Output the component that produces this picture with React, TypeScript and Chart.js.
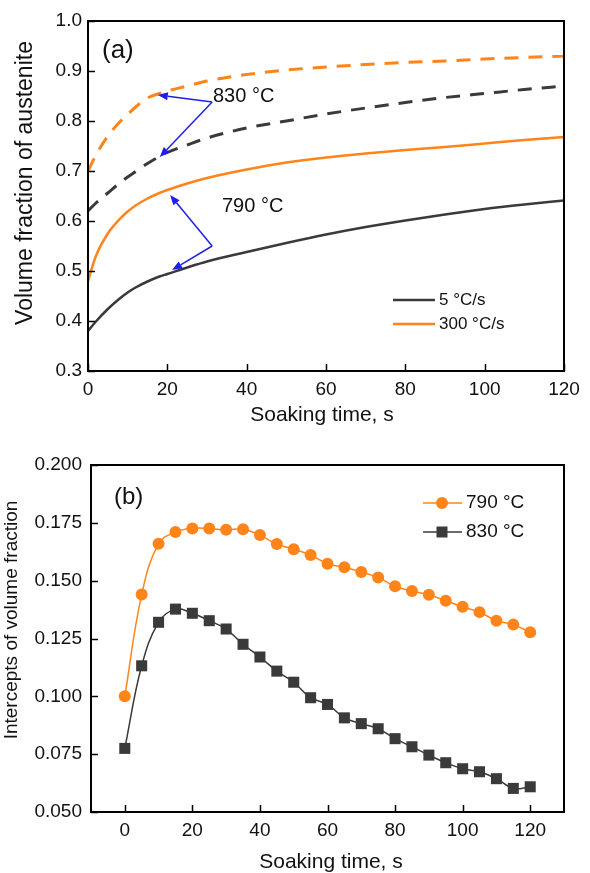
import React, { useEffect, useRef } from 'react';
import { Chart, registerables } from 'chart.js';

Chart.register(...registerables);

const FONT = "'Liberation Sans', Arial, Helvetica, sans-serif";
const ORANGE = '#ff8419';
const GREY = '#3a3a3a';
const BLUE = '#1f1fe6';

// ---------- Panel (a) data ----------
const timeA = [0, 2, 5, 8, 10, 12, 15, 18, 20, 25, 30, 40, 50, 60, 70, 80, 90, 100, 110, 120];
const fast830 = [0.70, 0.732, 0.770, 0.798, 0.813, 0.828, 0.846, 0.855, 0.860, 0.870, 0.880, 0.893, 0.902, 0.908, 0.913, 0.917, 0.920, 0.924, 0.927, 0.930];
const slow830 = [0.62, 0.636, 0.656, 0.676, 0.688, 0.699, 0.715, 0.729, 0.737, 0.752, 0.766, 0.786, 0.800, 0.814, 0.826, 0.837, 0.847, 0.855, 0.863, 0.870];
const fast790 = [0.48, 0.530, 0.575, 0.604, 0.619, 0.631, 0.645, 0.656, 0.662, 0.675, 0.686, 0.703, 0.717, 0.727, 0.735, 0.742, 0.748, 0.755, 0.762, 0.768];
const slow790 = [0.38, 0.399, 0.424, 0.445, 0.457, 0.467, 0.479, 0.489, 0.494, 0.507, 0.519, 0.538, 0.556, 0.573, 0.588, 0.601, 0.613, 0.624, 0.633, 0.641];
const ticksAX = [0, 20, 40, 60, 80, 100, 120];
const ticksAY = [0.3, 0.4, 0.5, 0.6, 0.7, 0.8, 0.9, 1.0];
const legendA = ['5 °C/s', '300 °C/s'];

// ---------- Panel (b) data ----------
const timeB = [0, 5, 10, 15, 20, 25, 30, 35, 40, 45, 50, 55, 60, 65, 70, 75, 80, 85, 90, 95, 100, 105, 110, 115, 120];
const int790 = [0.100, 0.144, 0.166, 0.171, 0.1726, 0.1725, 0.172, 0.1722, 0.1697, 0.1658, 0.1636, 0.1611, 0.1573, 0.1558, 0.1537, 0.1514, 0.1476, 0.1455, 0.1439, 0.1413, 0.1387, 0.1364, 0.1327, 0.131, 0.1277];
const int830 = [0.0775, 0.1132, 0.132, 0.1377, 0.1359, 0.1327, 0.1291, 0.1225, 0.117, 0.1109, 0.1061, 0.0994, 0.0965, 0.0907, 0.0882, 0.086, 0.0817, 0.0782, 0.0746, 0.0713, 0.0687, 0.0674, 0.0644, 0.0602, 0.0609];
const ticksBX = [0, 20, 40, 60, 80, 100, 120];
const ticksBY = [0.05, 0.075, 0.1, 0.125, 0.15, 0.175, 0.2];
const legendB = ['790 °C', '830 °C'];

const pts = (xs: number[], ys: number[]) => xs.map((x, i) => ({ x, y: ys[i] }));

function setTicks(values: number[]) {
  return (scale: any) => {
    scale.ticks = values.map((v) => ({ value: v }));
  };
}

function arrow(ctx: CanvasRenderingContext2D, x0: number, y0: number, x1: number, y1: number) {
  const ang = Math.atan2(y1 - y0, x1 - x0);
  const len = 10;
  const hw = 4;
  const bx = x1 - len * Math.cos(ang);
  const by = y1 - len * Math.sin(ang);
  ctx.beginPath();
  ctx.moveTo(x0, y0);
  ctx.lineTo(bx, by);
  ctx.stroke();
  ctx.beginPath();
  ctx.moveTo(x1, y1);
  ctx.lineTo(bx + hw * Math.sin(ang), by - hw * Math.cos(ang));
  ctx.lineTo(bx - hw * Math.sin(ang), by + hw * Math.cos(ang));
  ctx.closePath();
  ctx.fill();
}

function frameAndTicks(chart: any) {
  const { ctx, chartArea: a, scales } = chart;
  ctx.save();
  ctx.strokeStyle = '#000';
  ctx.lineWidth = 1.5;
  scales.x.ticks.forEach((t: any) => {
    const px = Math.round(scales.x.getPixelForValue(t.value)) + 0.5;
    ctx.beginPath();
    ctx.moveTo(px, a.bottom);
    ctx.lineTo(px, a.bottom - 7);
    ctx.stroke();
  });
  scales.y.ticks.forEach((t: any) => {
    const py = Math.round(scales.y.getPixelForValue(t.value)) + 0.5;
    ctx.beginPath();
    ctx.moveTo(a.left, py);
    ctx.lineTo(a.left + 7, py);
    ctx.stroke();
  });
  ctx.lineWidth = 2;
  ctx.strokeRect(a.left, a.top, a.right - a.left, a.bottom - a.top);
  ctx.restore();
}

function drawText(ctx: CanvasRenderingContext2D, text: string, x: number, y: number, size: number, align: CanvasTextAlign = 'left', rot = 0) {
  ctx.save();
  ctx.translate(x, y);
  if (rot) ctx.rotate(rot);
  ctx.font = `${size}px ${FONT}`;
  ctx.fillStyle = '#111';
  ctx.textAlign = align;
  ctx.textBaseline = 'middle';
  ctx.fillText(text, 0, 0);
  ctx.restore();
}

const plotA = {
  id: 'plotA',
  afterDraw(chart: any) {
    const { ctx, scales } = chart;
    frameAndTicks(chart);
    const X = (v: number) => scales.x.getPixelForValue(v);
    const Y = (v: number) => scales.y.getPixelForValue(v);
    // titles
    drawText(ctx, 'Soaking time, s', 322, 415, 21, 'center');
    drawText(ctx, 'Volume fraction of austenite', 26, 183, 23, 'center', -Math.PI / 2);
    // annotations
    drawText(ctx, '(a)', 102, 51, 26);
    drawText(ctx, '830 °C', 213, 96, 20);
    drawText(ctx, '790 °C', 222, 206, 20);
    ctx.save();
    ctx.strokeStyle = BLUE;
    ctx.fillStyle = BLUE;
    ctx.lineWidth = 1.5;
    arrow(ctx, X(31.3), Y(0.838), X(17.6), Y(0.852));
    arrow(ctx, X(31.3), Y(0.838), X(18.1), Y(0.728));
    arrow(ctx, X(31.3), Y(0.55), X(20.7), Y(0.652));
    arrow(ctx, X(31.3), Y(0.55), X(21.2), Y(0.502));
    ctx.restore();
    // legend
    const colors = [GREY, ORANGE];
    const rows = [300, 324];
    legendA.forEach((label, i) => {
      ctx.save();
      ctx.strokeStyle = colors[i];
      ctx.lineWidth = 2.5;
      ctx.beginPath();
      ctx.moveTo(393, rows[i]);
      ctx.lineTo(435, rows[i]);
      ctx.stroke();
      ctx.restore();
      drawText(ctx, label, 439, rows[i], 17);
    });
  },
};

const plotB = {
  id: 'plotB',
  afterDraw(chart: any) {
    const { ctx } = chart;
    frameAndTicks(chart);
    drawText(ctx, 'Soaking time, s', 331, 422, 21, 'center');
    drawText(ctx, 'Intercepts of volume fraction', 12, 180, 19, 'center', -Math.PI / 2);
    drawText(ctx, '(b)', 114, 57, 24);
    const colors = [ORANGE, GREY];
    const rows = [63, 92];
    legendB.forEach((label, i) => {
      ctx.save();
      ctx.strokeStyle = colors[i];
      ctx.fillStyle = colors[i];
      ctx.lineWidth = 1.5;
      ctx.beginPath();
      ctx.moveTo(423, rows[i]);
      ctx.lineTo(462, rows[i]);
      ctx.stroke();
      if (i === 0) {
        ctx.beginPath();
        ctx.arc(442, rows[i], 6, 0, Math.PI * 2);
        ctx.fill();
      } else {
        ctx.fillRect(442 - 5.5, rows[i] - 5.5, 11, 11);
      }
      ctx.restore();
      drawText(ctx, label, 466, rows[i], 19);
    });
  },
};

const tickFont = { family: FONT, size: 19 };

function ChartA() {
  const ref = useRef<HTMLCanvasElement>(null);
  useEffect(() => {
    const chart = new Chart(ref.current!, {
      type: 'line',
      data: {
        datasets: [
          { label: '830 °C, 300 °C/s', data: pts(timeA, fast830), borderColor: ORANGE, borderWidth: 3, borderDash: [14, 10], pointRadius: 0, cubicInterpolationMode: 'monotone' },
          { label: '830 °C, 5 °C/s', data: pts(timeA, slow830), borderColor: GREY, borderWidth: 3, borderDash: [14, 10], pointRadius: 0, cubicInterpolationMode: 'monotone' },
          { label: '790 °C, 300 °C/s', data: pts(timeA, fast790), borderColor: ORANGE, borderWidth: 2.5, pointRadius: 0, cubicInterpolationMode: 'monotone' },
          { label: '790 °C, 5 °C/s', data: pts(timeA, slow790), borderColor: GREY, borderWidth: 2.5, pointRadius: 0, cubicInterpolationMode: 'monotone' },
        ],
      } as any,
      options: {
        animation: false,
        responsive: false,
        maintainAspectRatio: false,
        layout: { padding: { top: 21, right: 26, left: 0, bottom: 0 } },
        plugins: { legend: { display: false }, tooltip: { enabled: false } },
        scales: {
          x: {
            type: 'linear',
            min: 0,
            max: 120,
            afterBuildTicks: setTicks(ticksAX),
            afterFit: (s: any) => { s.height = 440 - 371; },
            grid: { display: false, drawTicks: false },
            border: { display: false },
            ticks: { font: tickFont, color: '#111', padding: 7, autoSkip: false, maxRotation: 0, callback: (v: any) => String(v) },
          },
          y: {
            type: 'linear',
            min: 0.3,
            max: 1.0,
            afterBuildTicks: setTicks(ticksAY),
            afterFit: (s: any) => { s.width = 88; },
            grid: { display: false, drawTicks: false },
            border: { display: false },
            ticks: { font: tickFont, color: '#111', padding: 6, autoSkip: false, callback: (v: any) => Number(v).toFixed(1) },
          },
        },
      } as any,
      plugins: [plotA],
    });
    return () => chart.destroy();
  }, []);
  return <canvas ref={ref} width={590} height={440} style={{ position: 'absolute', left: 0, top: 0, width: 590, height: 440 }} />;
}

function ChartB() {
  const ref = useRef<HTMLCanvasElement>(null);
  useEffect(() => {
    const chart = new Chart(ref.current!, {
      type: 'line',
      data: {
        datasets: [
          { label: '790 °C', data: pts(timeB, int790), borderColor: ORANGE, backgroundColor: ORANGE, borderWidth: 1.5, tension: 0.4, pointStyle: 'circle', pointRadius: 6, pointBorderWidth: 0 },
          { label: '830 °C', data: pts(timeB, int830), borderColor: GREY, backgroundColor: GREY, borderWidth: 1.5, tension: 0.4, pointStyle: 'rect', pointRadius: 7.8, pointBorderWidth: 0 },
        ],
      } as any,
      options: {
        animation: false,
        responsive: false,
        maintainAspectRatio: false,
        layout: { padding: { top: 25, right: 26, left: 0, bottom: 0 } },
        plugins: { legend: { display: false }, tooltip: { enabled: false } },
        scales: {
          x: {
            type: 'linear',
            min: -10,
            max: 130,
            afterBuildTicks: setTicks(ticksBX),
            afterFit: (s: any) => { s.height = 433 - 372; },
            grid: { display: false, drawTicks: false },
            border: { display: false },
            ticks: { font: tickFont, color: '#111', padding: 7, autoSkip: false, maxRotation: 0, callback: (v: any) => String(v) },
          },
          y: {
            type: 'linear',
            min: 0.05,
            max: 0.2,
            afterBuildTicks: setTicks(ticksBY),
            afterFit: (s: any) => { s.width = 91; },
            grid: { display: false, drawTicks: false },
            border: { display: false },
            ticks: { font: tickFont, color: '#111', padding: 9, autoSkip: false, callback: (v: any) => Number(v).toFixed(3) },
          },
        },
      } as any,
      plugins: [plotB],
    });
    return () => chart.destroy();
  }, []);
  return <canvas ref={ref} width={590} height={433} style={{ position: 'absolute', left: 0, top: 440, width: 590, height: 433 }} />;
}

export default function App() {
  return (
    <div style={{ position: 'fixed', left: 0, top: 0, width: 590, height: 873, background: '#fff', overflow: 'hidden' }}>
      <ChartA />
      <ChartB />
    </div>
  );
}
